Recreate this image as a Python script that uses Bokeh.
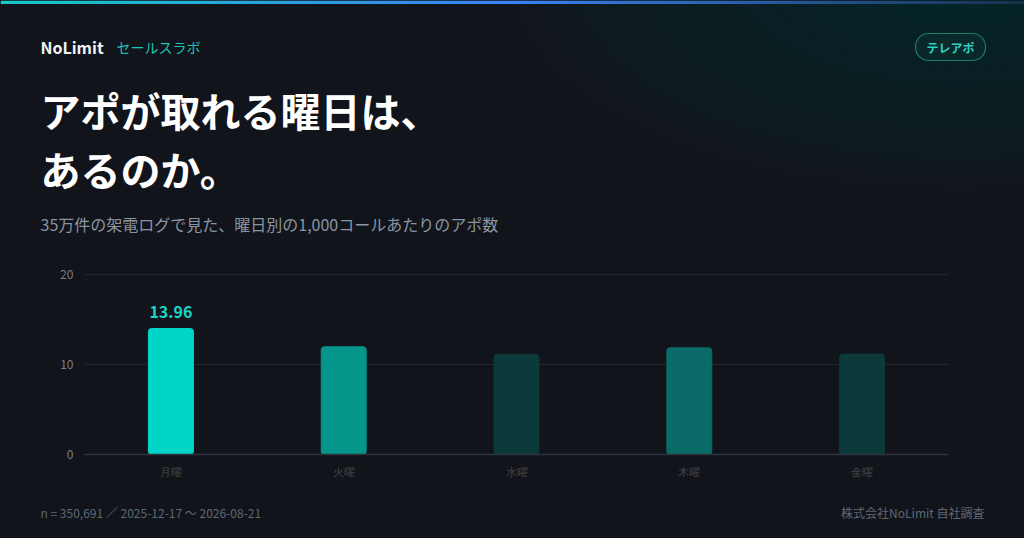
from bokeh.plotting import figure
from bokeh.models import ColumnDataSource, LabelSet, FixedTicker, Range1d
from bokeh.embed import file_html
from bokeh.resources import INLINE
from bokeh.core.properties import value

# ---- data ----
days = ["月曜", "火曜", "水曜", "木曜", "金曜"]
appts_per_1000 = [13.96, 11.94, 11.10, 11.83, 11.13]
y_ticks = [0, 10, 20]
n_calls = "350,691"
period = "2025-12-17 〜 2026-08-21"

# ---- styles ----
BG = "#11141b"
FONT = "Noto Sans CJK JP"
bar_colors = ["#00d6c8", "#05958b", "#0c3a3a", "#0b6b68", "#0c3a3a"]
day_label_colors = ["#d5dbe2", "#ffffff", "#767f8c", "#ffffff", "#767f8c"]

top_val = max(appts_per_1000)
value_texts = [f"{v:.2f}" if v == top_val else "" for v in appts_per_1000]

src = ColumnDataSource(dict(day=days, v=appts_per_1000, color=bar_colors, vt=value_texts))

W = 1024
H_HEAD, H_CHART, H_FOOT = 263, 227, 48
CSS = {"background-color": BG}


def blank_fig(h):
    f = figure(width=W, height=h, x_range=Range1d(0, W), y_range=Range1d(h, 0),
               output_backend="svg", toolbar_location=None,
               min_border=0, background_fill_color=BG, border_fill_color=BG,
               outline_line_color=None, styles=CSS)
    f.axis.visible = False
    f.grid.visible = False
    return f


def txt(f, x, y, text, size, color, style="normal", align="left"):
    f.text(x=[x], y=[y], text=[text], text_font=value(FONT), text_font_size=size,
           text_color=color, text_font_style=style, text_align=align,
           text_baseline="middle")


# ---- header ----
head = blank_fig(H_HEAD)
# soft glow top-right
for k in range(14):
    s = 1 - k / 14
    head.ellipse(x=[960], y=[-20], width=[900 * s], height=[420 * s],
                 fill_color="#0c4444", fill_alpha=0.04, line_color=None)
# top gradient strip
stops = [(0.0, (0x16, 0xc8, 0xc6)), (0.5, (0x3b, 0x82, 0xf6)), (1.0, (0x17, 0x33, 0x4c))]
N = 80
lefts, rights, cols = [], [], []
for i in range(N):
    t = i / (N - 1)
    for (t0, a), (t1, b) in zip(stops[:-1], stops[1:]):
        if t0 <= t <= t1:
            u = (t - t0) / (t1 - t0)
            cols.append("#%02x%02x%02x" % tuple(int(a[j] + (b[j] - a[j]) * u) for j in range(3)))
            break
    lefts.append(W * i / N)
    rights.append(W * (i + 1) / N + 0.6)
head.quad(left=lefts, right=rights, top=[0] * N, bottom=[3.5] * N,
          fill_color=cols, line_color=None)

txt(head, 40, 46, "NoLimit", "16px", "#f0f3f6", "bold")
txt(head, 116, 46, "セールスラボ", "14px", "#1fc7b8")
txt(head, 40, 109, "アポが取れる曜日は、", "40px", "#ffffff", "bold")
txt(head, 40, 168, "あるのか。", "40px", "#ffffff", "bold")
txt(head, 40, 223, "35万件の架電ログで見た、曜日別の1,000コールあたりのアポ数", "16px", "#8a94a2")

# badge
head.quad(left=[915], right=[985], top=[33], bottom=[60],
          fill_color="#0f3533", fill_alpha=0.4, line_color="#1a7a72",
          line_width=1.2, border_radius=13)
txt(head, 950, 46.5, "テレアポ", "12px", "#2fd2c2", "bold", align="center")

# ---- chart ----
FL, FR = 84, 948
p = figure(x_range=days, y_range=Range1d(0, 20.06), width=W, height=H_CHART,
           output_backend="svg", toolbar_location=None,
           min_border_left=FL, min_border_right=W - FR,
           min_border_top=10, min_border_bottom=36,
           background_fill_color=BG, border_fill_color=BG,
           outline_line_color=None, styles=CSS)

p.vbar(x="day", top="v", width=0.26, source=src, fill_color="color",
       line_color="color", line_width=1, border_radius=3)

p.yaxis.ticker = FixedTicker(ticks=y_ticks)
p.yaxis.axis_line_color = None
p.yaxis.major_tick_line_color = None
p.yaxis.minor_tick_line_color = None
p.yaxis.major_label_text_color = "#767e89"
p.yaxis.major_label_text_font = FONT
p.yaxis.major_label_text_font_size = "12px"
p.yaxis.major_label_standoff = 5

p.xaxis.axis_line_color = "#2e333c"
p.xaxis.axis_line_width = 1.5
p.xaxis.major_tick_line_color = None
p.xaxis.minor_tick_line_color = None
p.xaxis.major_label_overrides = {d: "" for d in days}

p.xgrid.grid_line_color = None
p.ygrid.grid_line_color = "#22262e"
p.ygrid.grid_line_width = 1

# day labels, one LabelSet per label colour
for col in dict.fromkeys(day_label_colors):
    sub = ColumnDataSource(dict(day=[d for d, c in zip(days, day_label_colors) if c == col]))
    p.add_layout(LabelSet(x="day", y=0, text="day", source=sub, y_offset=-12,
                          text_align="center", text_baseline="middle",
                          text_color=col, text_font=value(FONT),
                          text_font_size="13.5px"))

p.add_layout(LabelSet(x="day", y="v", text="vt", source=src, y_offset=11,
                      text_align="center", text_baseline="bottom",
                      text_color="#19d3c5", text_font=value(FONT),
                      text_font_size="16px", text_font_style="bold"))

# ---- footer ----
foot = blank_fig(H_FOOT)
txt(foot, 40, 22, f"n = {n_calls} ／ {period}", "12px", "#5f6875")
txt(foot, 984, 22, "株式会社NoLimit 自社調査", "12px", "#5f6875", align="right")

open("out.html", "w").write(file_html((head, p, foot), INLINE))
